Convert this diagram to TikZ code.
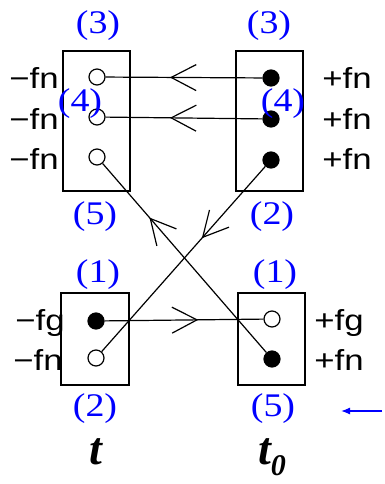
\documentclass[tikz,border=0pt]{standalone}
\usepackage{fontspec}
\setmainfont{Liberation Serif}
\newfontfamily\labsans{Liberation Sans}
\usetikzlibrary{arrows.meta,decorations.markings}
\begin{document}
\begin{tikzpicture}[x=1pt,y=-1pt,
  box/.style={draw,line width=1.2pt,inner sep=0pt},
  opendot/.style={circle,draw,fill=white,line width=1.2pt,minimum size=16pt,inner sep=0pt},
  fulldot/.style={circle,draw,fill=black,line width=1.2pt,minimum size=16pt,inner sep=0pt},
  sidelab/.style={anchor=base,inner sep=0pt,xscale=1.2,font=\labsans\fontsize{29}{30}\selectfont},
  numlab/.style={anchor=base,inner sep=0pt,xscale=1.15,text=blue,font=\fontsize{33}{35}\selectfont},
  timelab/.style={inner sep=0pt,font=\bfseries\itshape\fontsize{46}{48}\selectfont},
  conn/.style={line width=1.2pt},
  barb/.style={postaction={decorate},decoration={markings,mark=at position #1 with {\arrow{Straight Barb[length=25pt,width=26pt,line width=1.2pt]}}}}
]
\useasboundingbox (0,0) rectangle (384,484);
% boxes
\node[box,minimum width=67pt,minimum height=140pt] (tlbox) at (96.5,121) {};
\node[box,minimum width=67pt,minimum height=140pt] (trbox) at (269.5,121) {};
\node[box,minimum width=68pt,minimum height=92pt] (blbox) at (95,339) {};
\node[box,minimum width=67pt,minimum height=92pt] (brbox) at (271.5,339) {};
% dots
\node[opendot] (l1) at (97,77) {};
\node[opendot] (l2) at (97,117) {};
\node[opendot] (l3) at (97,157) {};
\node[fulldot] (r1) at (271,78) {};
\node[fulldot] (r2) at (271,119) {};
\node[fulldot] (r3) at (271,160) {};
\node[fulldot] (bl1) at (96,321) {};
\node[opendot] (bl2) at (96,358) {};
\node[opendot] (br1) at (272,319) {};
\node[fulldot] (br2) at (272,359) {};
% connectors
\draw[conn,barb=0.59] (r1) -- (l1);
\draw[conn,barb=0.59] (r2) -- (l2);
\draw[conn,barb=0.714] (br2) -- (l3);
\draw[conn,barb=0.388] (r3) -- (bl2);
\draw[conn,barb=0.59] (bl1) -- (br1);
% side labels
\node[sidelab] (la1) at (34,89) {−fn};
\node[sidelab] (la2) at (34,129) {−fn};
\node[sidelab] (la3) at (34,169) {−fn};
\node[sidelab] (ra1) at (347,89) {+fn};
\node[sidelab] (ra2) at (347,129) {+fn};
\node[sidelab] (ra3) at (347,169) {+fn};
\node[sidelab] (lb1) at (40,330) {−fg};
\node[sidelab] (lb2) at (38,370) {−fn};
\node[sidelab] (rb1) at (339,330) {+fg};
\node[sidelab] (rb2) at (339,370) {+fn};
% blue numbers
\node[numlab] (n1) at (98,34) {(3)};
\node[numlab] (n2) at (269,34) {(3)};
\node[numlab] (n3) at (80,112) {(4)};
\node[numlab] (n4) at (283,112) {(4)};
\node[numlab] (n5) at (95,224) {(5)};
\node[numlab] (n6) at (272,224) {(2)};
\node[numlab] (n7) at (98,282) {(1)};
\node[numlab] (n8) at (275,282) {(1)};
\node[numlab] (n9) at (95,416) {(2)};
\node[numlab] (n10) at (273,416) {(5)};
% time labels
\node[timelab,anchor=base] (tt) at (96,464) {t};
\node[timelab,anchor=base west] (tt0) at (258,464) {t\raisebox{-0.25em}{\fontsize{30}{30}\selectfont 0}};
% blue arrow
\coordinate (ba) at (382,411);
\coordinate (bb) at (341,411);
\draw[blue,line width=1.3pt,-{Latex[length=9pt,width=7pt]}] (ba) -- (bb);
\end{tikzpicture}
\end{document}
